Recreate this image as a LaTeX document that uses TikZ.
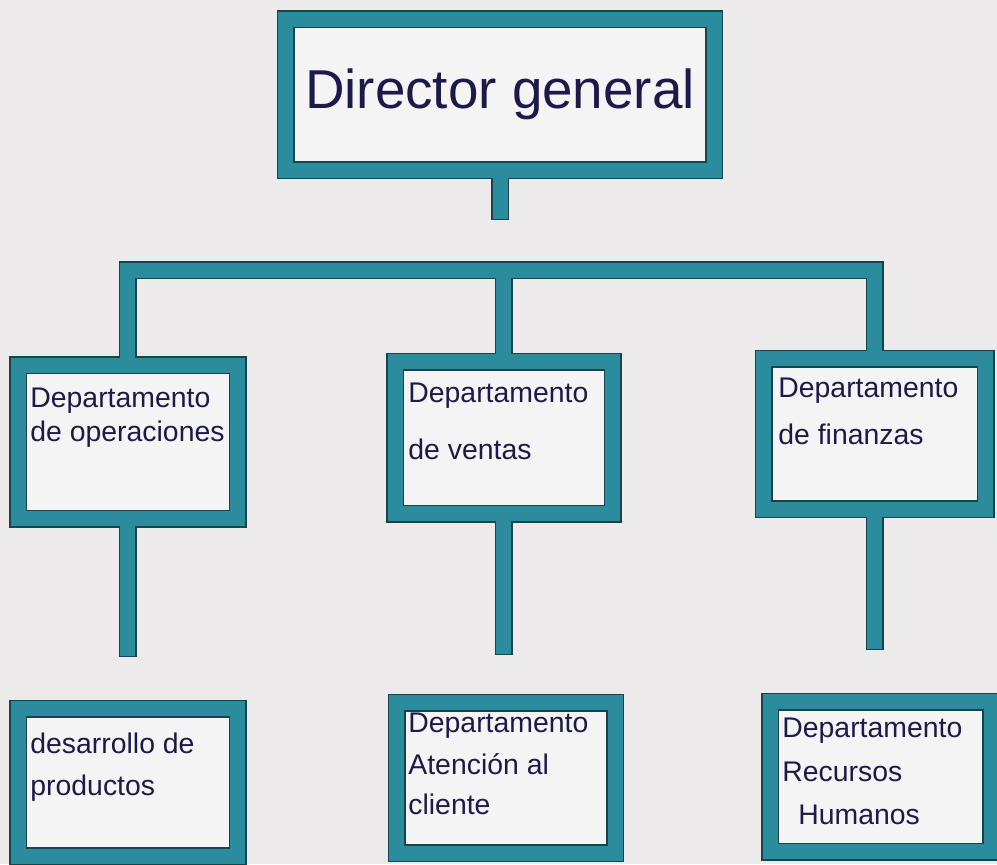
\documentclass[tikz,border=0pt]{standalone}
\usepackage{fontspec}
\setmainfont{Liberation Sans}
\usetikzlibrary{positioning}
\definecolor{paper}{RGB}{236,234,234}
\definecolor{boxin}{RGB}{245,244,244}
\definecolor{band}{RGB}{42,140,156}
\definecolor{bandedge}{RGB}{24,66,76}
\definecolor{ink}{RGB}{28,26,72}

\begin{document}
\begin{tikzpicture}[x=0.5pt,y=-0.5pt,
    caja/.style={rectangle, fill=boxin, inner sep=0pt, outer sep=0pt},
    txt/.style={inner sep=0pt, align=left, text=ink, font=\fontsize{14.2}{17}\selectfont},
    banda/.style={draw=band, line width=7.5pt, line cap=rect,
      preaction={draw=bandedge, line width=9pt, line cap=rect}}]
			\useasboundingbox (0,0) rectangle (997,864);
			\fill[paper] (0,0) rectangle (997,864);
			% cajas
			\node[caja, minimum width=214.25pt, minimum height=75.5pt, text=ink, font=\fontsize{27.4}{32}\selectfont] (dir) at (500,94.5) {Director general};
			\node[caja, minimum width=109.75pt, minimum height=76.75pt] (ops) at (127.75,441.75) {};
			\node[caja, minimum width=108.75pt, minimum height=76pt] (ven) at (503.75,437.5) {};
			\node[caja, minimum width=111pt, minimum height=75.25pt] (fin) at (874.5,433.75) {};
			\node[caja, minimum width=109.75pt, minimum height=73.75pt] (dev) at (127.75,782.25) {};
			\node[caja, minimum width=109.25pt, minimum height=75.25pt] (att) at (505.75,777.75) {};
			\node[caja, minimum width=110.5pt, minimum height=75pt] (rh) at (880.5,776.5) {};
			\coordinate (stub) at (500,211);
			\coordinate (bar) at (500,270);
			\coordinate (opsE) at (127.75,648);
			\coordinate (venE) at (503.75,646);
			\coordinate (finE) at (874.5,641);
			% lineas
			\draw[banda]
			(dir.north west) rectangle (dir.south east)
			(ops.north west) rectangle (ops.south east)
			(ven.north west) rectangle (ven.south east)
			(fin.north west) rectangle (fin.south east)
			(dev.north west) rectangle (dev.south east)
			(att.north west) rectangle (att.south east)
			(rh.north west) rectangle (rh.south east)
			(dir.south) -- (stub)
			(ops.north) |- (bar) -| (fin.north)
			(ven.north) -- (ven.north |- bar)
			(ops.south) -- (opsE)
			(ven.south) -- (venE)
			(fin.south) -- (finE);
			% textos
			\node[txt, below right=11.5pt and 6pt of ops.north west] (opsT) {Departamento\\de operaciones};
			\node[txt, below right=10.75pt and 6.5pt of ven.north west] (venT) {Departamento\\[11.5pt]de ventas};
			\node[txt, below right=9.75pt and 7.25pt of fin.north west] (finT) {Departamento\\[6.5pt]de finanzas};
			\node[txt, below right=12pt and 6pt of dev.north west] (devT) {desarrollo de\\[4pt]productos};
			\node[txt, below right=5pt and 5.75pt of att.north west] (attT) {Departamento\\[4pt]Atención al\\[3pt]cliente};
			\node[txt, below right=8pt and 6pt of rh.north west] (rhT) {Departamento\\[5pt]Recursos\\[4.5pt]\hspace*{8pt}Humanos};
		\end{tikzpicture}
\end{document}
